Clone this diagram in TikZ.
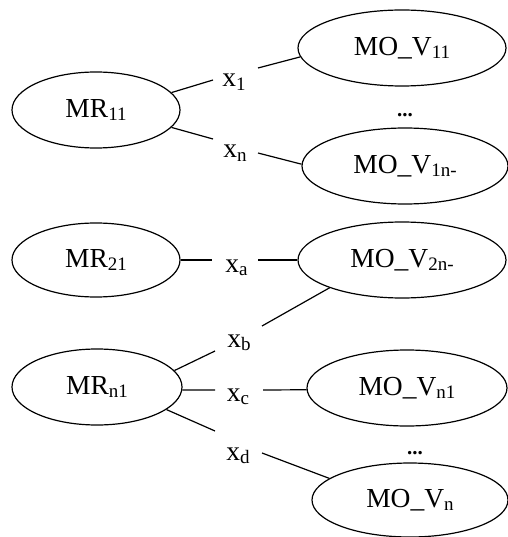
\documentclass[tikz,border=0pt]{standalone}
\usepackage{fontspec}
\setmainfont{Liberation Serif}
\usetikzlibrary{shapes.geometric}
\newcommand{\mysb}[1]{\raisebox{-0.12em}{\fontsize{19}{19}\selectfont #1}}
\begin{document}
\begin{tikzpicture}[x=1pt,y=-1pt,
  ell/.style={draw,ellipse,line width=1.2pt,inner sep=0pt,font=\fontsize{27.5}{30}\selectfont},
  lab/.style={inner sep=0pt,anchor=base,font=\fontsize{27.5}{30}\selectfont},
  dots/.style={inner sep=0pt,font=\fontsize{21}{24}\selectfont\bfseries},
  con/.style={line width=1.2pt}]
\useasboundingbox (0,0) rectangle (507,537);
% ellipses
\node[ell,minimum width=168pt,minimum height=76pt] (MR11) at (96,110) {MR\mysb{11}};
\node[ell,minimum width=208pt,minimum height=76pt] (MO11) at (402,48) {MO\_V\mysb{11}};
\node[ell,minimum width=206pt,minimum height=76pt] (MO1n) at (405,166) {MO\_V\mysb{1n-}};
\node[ell,minimum width=168pt,minimum height=74pt] (MR21) at (96,260) {MR\mysb{21}};
\node[ell,minimum width=208pt,minimum height=76pt] (MO2n) at (402,260) {MO\_V\mysb{2n-}};
\node[ell,minimum width=170pt,minimum height=76pt] (MRn1) at (97,387) {MR\mysb{n1}};
\node[ell,minimum width=200pt,minimum height=76pt] (MOn1) at (407,388) {MO\_V\mysb{n1}};
\node[ell,minimum width=196pt,minimum height=74pt] (MOn) at (410,500) {MO\_V\mysb{n}};
% labels
\node[lab] (x1) at (234,87) {x\mysb{1}};
\node[lab] (xn) at (235,158) {x\mysb{n}};
\node[lab] (xa) at (236.5,272) {x\mysb{a}};
\node[lab] (xb) at (239,347) {x\mysb{b}};
\node[lab] (xc) at (238,401) {x\mysb{c}};
\node[lab] (xd) at (238,460) {x\mysb{d}};
\node[dots] (d1) at (405,115) {...};
\node[dots] (d2) at (415,453) {...};
% connectors
\draw[con] (MR11.13.7) -- ([shift={(-21,-7)}]x1.base);
\draw[con] ([shift={(24,-19)}]x1.base) -- (MO11.185);
\draw[con] (MR11.347) -- ([shift={(-22,-19)}]xn.base);
\draw[con] ([shift={(23,-5)}]xn.base) -- (MO1n.179);
\draw[con] (MR21.east) -- ([shift={(-24.5,-12)}]xa.base);
\draw[con] ([shift={(21.5,-12)}]xa.base) -- (MO2n.west);
\draw[con] (MO2n.201) -- ([shift={(23,-21)}]xb.base);
\draw[con] ([shift={(-24,4)}]xb.base) -- (MRn1.12);
\draw[con] (MRn1.358) -- ([shift={(-23,-11)}]xc.base);
\draw[con] ([shift={(25,-11)}]xc.base) -- (MOn1.181);
\draw[con] (MRn1.342) -- ([shift={(-23,-29)}]xd.base);
\draw[con] ([shift={(24,-7)}]xd.base) -- (MOn.165.5);
\end{tikzpicture}
\end{document}
